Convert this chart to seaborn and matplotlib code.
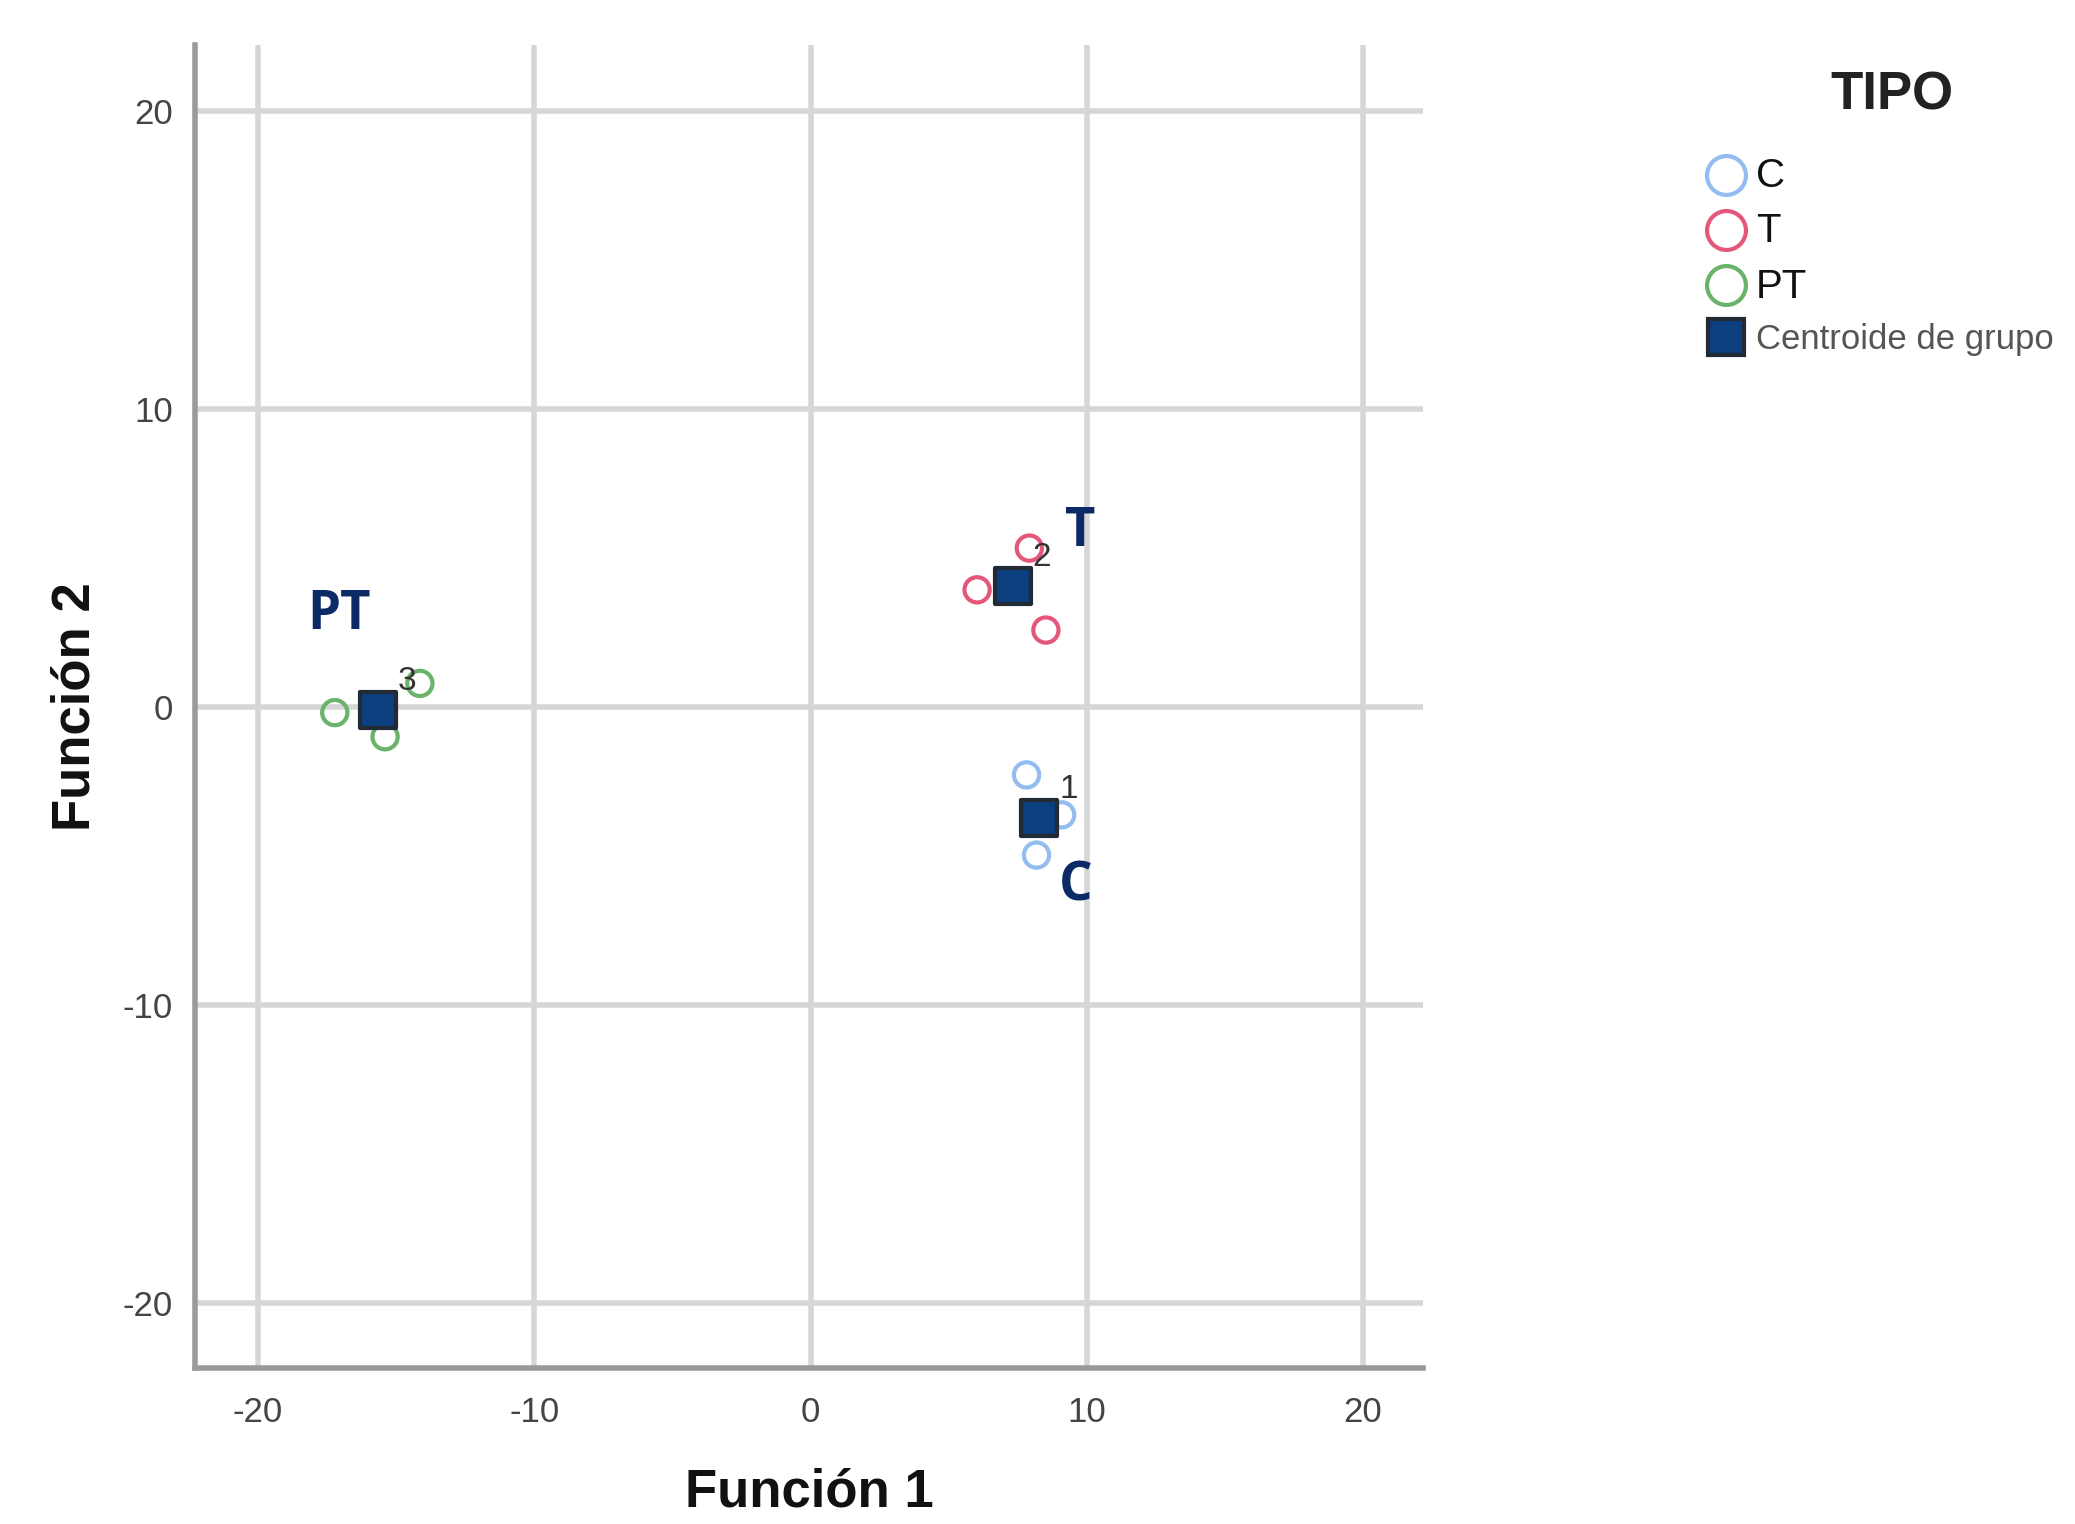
import matplotlib
matplotlib.use("Agg")
import matplotlib.pyplot as plt
import seaborn as sns
import pandas as pd
from matplotlib.lines import Line2D

# ---- data ----
grupo = ["C", "C", "C", "T", "T", "T", "PT", "PT", "PT"]
funcion1 = [7.82, 9.09, 8.18, 7.92, 6.03, 8.52, -17.22, -14.14, -15.40]
funcion2 = [-2.27, -3.61, -4.96, 5.34, 3.94, 2.59, -0.18, 0.80, -0.99]

centroid_groups = ["C", "T", "PT"]
centroid_ids = ["1", "2", "3"]
centroid_f1 = [8.28, 7.32, -15.65]
centroid_f2 = [-3.72, 4.07, -0.09]

# annotation positions of the big group letters
annot_text = ["PT", "T", "C"]
annot_x = [-17.07, 9.75, 9.61]
annot_y = [3.10, 5.89, -6.02]

ticks = [-20, -10, 0, 10, 20]

palette = {"C": "#93bdf0", "T": "#e5577a", "PT": "#69b36a"}

df = pd.DataFrame({"Función 1": funcion1, "Función 2": funcion2, "TIPO": grupo})
cdf = pd.DataFrame({"Función 1": centroid_f1, "Función 2": centroid_f2,
                    "TIPO": centroid_groups, "id": centroid_ids})

sns.set_style("white")
plt.rcParams["font.family"] = ["Liberation Sans", "DejaVu Sans"]
plt.rcParams["axes.unicode_minus"] = False

fig = plt.figure(figsize=(20.75, 15.24), dpi=100)
ax = fig.add_axes([195 / 2075, 1 - 1368 / 1524, (1423 - 195) / 2075, (1368 - 45) / 1524])

ax.set_xlim(-22.28, 22.17)
ax.set_ylim(-22.17, 22.22)
ax.set_xticks(ticks)
ax.set_yticks(ticks)
ax.grid(True, color="#d6d6d6", linewidth=4, zorder=0)
ax.set_axisbelow(True)

sns.scatterplot(data=df, x="Función 1", y="Función 2", hue="TIPO",
                hue_order=["C", "T", "PT"], palette=palette,
                marker="o", s=330, facecolors="none", linewidth=3,
                ax=ax, legend=False, zorder=3)
# outline-only circles: set edge colors from palette
coll = ax.collections[-1]
coll.set_facecolor("none")
coll.set_edgecolor([palette[g] for g in grupo])

sns.scatterplot(data=cdf, x="Función 1", y="Función 2", marker="s", s=700,
                color="#0b3f7f", edgecolor="#222a35", linewidth=3,
                ax=ax, legend=False, zorder=4)

for gx, gy, gid in zip(centroid_f1, centroid_f2, centroid_ids):
    ax.text(gx + 1.05, gy + 0.95, gid, fontsize=24, color="#333333",
            ha="center", va="center", zorder=5)

for t, tx, ty in zip(annot_text, annot_x, annot_y):
    ax.text(tx, ty, t, fontsize=38, fontweight="bold", color="#0c2a66",
            family=["Open Sans", "DejaVu Sans"], ha="center", va="center", zorder=6)

for side in ["top", "right"]:
    ax.spines[side].set_visible(False)
for side in ["left", "bottom"]:
    ax.spines[side].set_color("#9a9a9a")
    ax.spines[side].set_linewidth(4)

ax.tick_params(axis="both", length=0, labelsize=25, labelcolor="#444444")
ax.tick_params(axis="x", pad=20)
ax.tick_params(axis="y", pad=16)
ax.set_xlabel("Función 1", fontsize=38, fontweight="bold", color="#111111", labelpad=28)
ax.set_ylabel("Función 2", fontsize=38, fontweight="bold", color="#111111", labelpad=16)

# legend
handles = [
    Line2D([], [], linestyle="none", marker="o", markersize=28, markerfacecolor="none",
           markeredgecolor=palette["C"], markeredgewidth=3, label="C"),
    Line2D([], [], linestyle="none", marker="o", markersize=28, markerfacecolor="none",
           markeredgecolor=palette["T"], markeredgewidth=3, label="T"),
    Line2D([], [], linestyle="none", marker="o", markersize=28, markerfacecolor="none",
           markeredgecolor=palette["PT"], markeredgewidth=3, label="PT"),
    Line2D([], [], linestyle="none", marker="s", markersize=26, markerfacecolor="#0b3f7f",
           markeredgecolor="#222a35", markeredgewidth=3, label="Centroide de grupo"),
]
leg = fig.legend(handles=handles, loc="upper left", bbox_to_anchor=(1688 / 2075, 1 - 143 / 1524),
                 frameon=False, fontsize=25, handletextpad=0.15, labelspacing=0.5,
                 borderaxespad=0, handlelength=1.4)
for txt in leg.get_texts():
    if txt.get_text() == "Centroide de grupo":
        txt.set_color("#555555")
    else:
        txt.set_fontsize(29)
        txt.set_color("#111111")
fig.text(1892 / 2075, 1 - 95 / 1524, "TIPO", fontsize=38, fontweight="bold",
         color="#222222", ha="center", va="center")

fig.savefig("out.png", dpi=100)
